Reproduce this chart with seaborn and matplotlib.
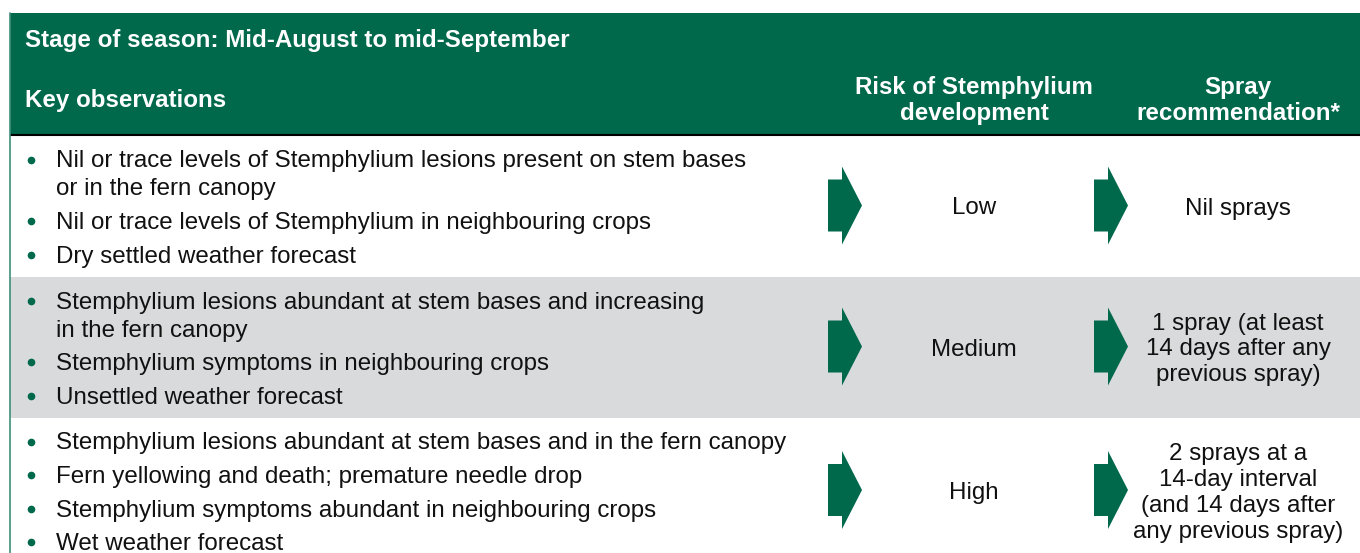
import matplotlib
matplotlib.use("Agg")
import matplotlib.pyplot as plt
from matplotlib.patches import Rectangle, Polygon
import seaborn as sns

sns.set_style("white")
plt.rcParams['font.family'] = ['Liberation Sans', 'DejaVu Sans']

# ---- data ----
stage_title = "Stage of season: Mid-August to mid-September"
col_headers = ["Key observations", "Risk of Stemphylium\ndevelopment", "Spray\nrecommendation*"]
observations = [
    ["Nil or trace levels of Stemphylium lesions present on stem bases\nor in the fern canopy",
     "Nil or trace levels of Stemphylium in neighbouring crops",
     "Dry settled weather forecast"],
    ["Stemphylium lesions abundant at stem bases and increasing\nin the fern canopy",
     "Stemphylium symptoms in neighbouring crops",
     "Unsettled weather forecast"],
    ["Stemphylium lesions abundant at stem bases and in the fern canopy",
     "Fern yellowing and death; premature needle drop",
     "Stemphylium symptoms abundant in neighbouring crops",
     "Wet weather forecast"],
]
risk_levels = ["Low", "Medium", "High"]
spray_recs = ["Nil sprays",
              "1 spray (at least\n14 days after any\nprevious spray)",
              "2 sprays at a\n14-day interval\n(and 14 days after\nany previous spray)"]
row_shaded = [False, True, False]

# ---- style / layout ----
GREEN = "#00684b"
GRAY = "#d9dadb"
W, H = 1360, 553
LEFT = 10
HDR_TOP, HDR_BOT = 13, 135
ROW_TOPS = [136, 277, 418]
ROW_BOTS = [277, 418, 564]
X_BULLET, X_TEXT = 31, 56
X_ARROW1, X_ARROW2 = 828, 1094
X_RISK, X_SPRAY = 974, 1238
FS_BODY = 17.4
FS_HDR = 17.4
DY = 2  # text baseline nudge (px)

fig = plt.figure(figsize=(W / 100, H / 100), dpi=100)
ax = fig.add_axes([0, 0, 1, 1])
ax.set_xlim(0, W)
ax.set_ylim(H, 0)
ax.axis("off")

# header
ax.add_patch(Rectangle((LEFT, HDR_TOP), W - LEFT, HDR_BOT - HDR_TOP, facecolor=GREEN, edgecolor="none"))
ax.text(25, 38 + DY, stage_title, color="white", fontsize=FS_HDR, fontweight="bold", va="center", ha="left")
ax.text(25, 99 + DY, col_headers[0], color="white", fontsize=FS_HDR, fontweight="bold", va="center", ha="left")
ax.text(X_RISK, 98.5 + DY, col_headers[1], color="white", fontsize=FS_HDR, fontweight="bold",
        va="center", ha="center", linespacing=1.15)
ax.text(X_SPRAY, 98.5 + DY, col_headers[2], color="white", fontsize=FS_HDR, fontweight="bold",
        va="center", ha="center", linespacing=1.15)
ax.plot([LEFT, W], [HDR_BOT, HDR_BOT], color="black", lw=1.5, solid_capstyle="butt")


def arrow(x0, cy):
    pts = [(x0, cy - 26), (x0 + 14, cy - 26), (x0 + 14, cy - 39), (x0 + 34, cy),
           (x0 + 14, cy + 39), (x0 + 14, cy + 26), (x0, cy + 26)]
    ax.add_patch(Polygon(pts, closed=True, facecolor=GREEN, edgecolor="none"))


for i, (obs, risk, spray) in enumerate(zip(observations, risk_levels, spray_recs)):
    top, bot = ROW_TOPS[i], ROW_BOTS[i]
    if row_shaded[i]:
        ax.add_patch(Rectangle((LEFT, top), W - LEFT, bot - top, facecolor=GRAY, edgecolor="none"))
    y = top + 23.5
    for item in obs:
        lines = item.split("\n")
        ax.plot([X_BULLET], [y], marker="o", ms=5.5, color=GREEN, mec="none")
        for j, ln in enumerate(lines):
            ax.text(X_TEXT, y + DY, ln, fontsize=FS_BODY, color="#111111", va="center", ha="left")
            if j < len(lines) - 1:
                y += 28
        y += 33.5
    cy = (top + bot) / 2
    arrow(X_ARROW1, cy - 1)
    arrow(X_ARROW2, cy - 1)
    ax.text(X_RISK, cy + DY, risk, fontsize=FS_BODY, color="#111111", va="center", ha="center")
    ax.text(X_SPRAY, cy + DY, spray, fontsize=FS_BODY, color="#111111", va="center", ha="center",
            linespacing=1.22)

# left border
ax.plot([LEFT, LEFT], [HDR_TOP, H], color="#3f8f7c", lw=1.2)

fig.savefig("out.png", dpi=100)
